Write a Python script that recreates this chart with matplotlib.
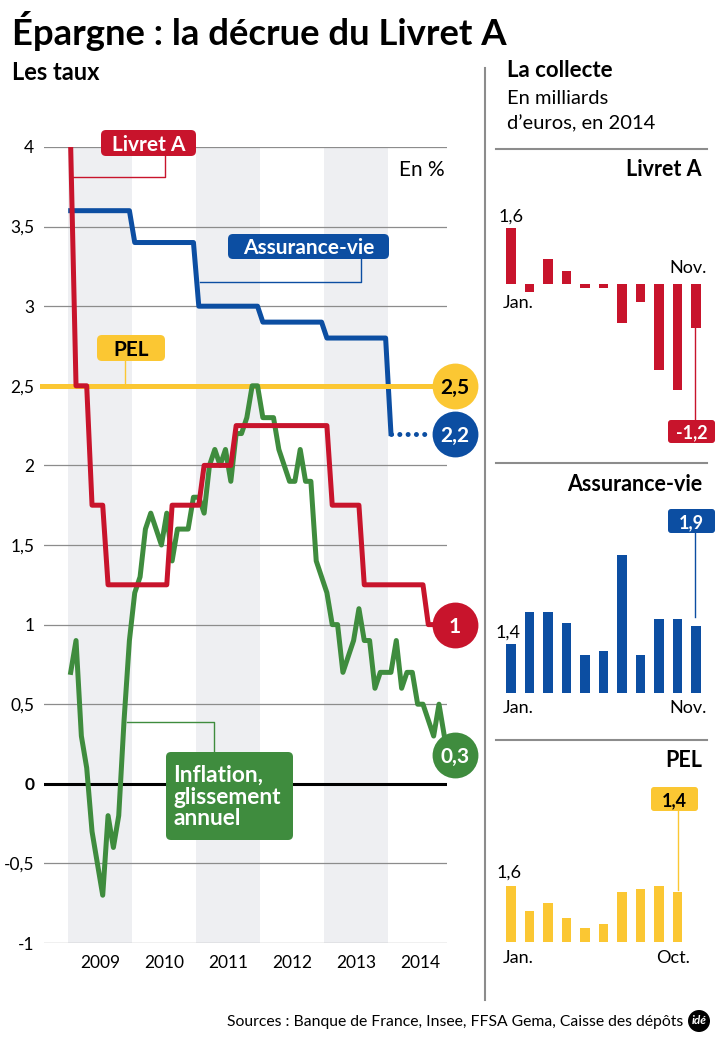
#%%
import numpy as np
import matplotlib
matplotlib.use("Agg")
import matplotlib.pyplot as plt
from matplotlib.patches import FancyBboxPatch, Circle
from matplotlib.lines import Line2D
from matplotlib.transforms import Affine2D

plt.rcParams['font.family'] = ['Lato', 'DejaVu Sans']

W, H = 720, 1040

#%%
# taux du Livret A : date du changement -> taux
livret_changes = ['2009-01', '2009-02', '2009-05', '2009-08', '2010-08',
                  '2011-02', '2011-08', '2013-02', '2013-08', '2014-08']
livret_rates = [4.0, 2.5, 1.75, 1.25, 1.75, 2.0, 2.25, 1.75, 1.25, 1.0]
livret_end = '2014-09'

# rendement moyen assurance-vie (2014 = estimation, en pointilles)
av_years = [2009, 2010, 2011, 2012, 2013, 2014]
av_rates = [3.6, 3.4, 3.0, 2.9, 2.8, 2.2]

pel_rate = 2.5

# inflation, glissement annuel, janv. 2009 -> nov. 2014
inflation = [0.7, 0.9, 0.3, 0.1, -0.3, -0.5, -0.7, -0.2, -0.4, -0.2, 0.4, 0.9,
             1.2, 1.3, 1.6, 1.7, 1.6, 1.5, 1.7, 1.4, 1.6, 1.6, 1.6, 1.8,
             1.8, 1.7, 2.0, 2.1, 2.0, 2.1, 1.9, 2.2, 2.2, 2.3, 2.5, 2.5,
             2.3, 2.3, 2.3, 2.1, 2.0, 1.9, 1.9, 2.1, 1.9, 1.9, 1.4, 1.3,
             1.2, 1.0, 1.0, 0.7, 0.8, 0.9, 1.1, 0.9, 0.9, 0.6, 0.7, 0.7,
             0.7, 0.9, 0.6, 0.7, 0.7, 0.5, 0.5, 0.4, 0.3, 0.5, 0.3]

years = ['2009', '2010', '2011', '2012', '2013', '2014']
yticks = [4, 3.5, 3, 2.5, 2, 1.5, 1, 0.5, 0, -0.5, -1]

# collecte 2014, en milliards d'euros
collecte_livret = [1.62, -0.21, 0.71, 0.38, -0.1, -0.1, -1.11, -0.5, -2.45, -3.02, -1.25]
collecte_av = [1.41, 2.32, 2.32, 2.02, 1.1, 1.2, 3.96, 1.1, 2.11, 2.11, 1.92]
collecte_pel = [1.62, 0.9, 1.11, 0.7, 0.4, 0.51, 1.43, 1.52, 1.62, 1.43]

RED = '#c8142c'
BLUE = '#0c4ea2'
YELLOW = '#fbc733'
GREEN = '#3f8c3e'
BAND = '#eeeff2'
GRID = '#8c8c8c'

def month_index(s):
    y, mo = s.split('-')
    return (int(y) - 2009) * 12 + int(mo) - 1

def fmt(v):
    if v == int(v):
        return str(int(v))
    return f"{v:.1f}".replace('.', ',')

#%%
fig = plt.figure(figsize=(W / 100, H / 100), dpi=100)
# coordonnees en pixels, origine en haut a gauche
pix = Affine2D().scale(1 / W, -1 / H).translate(0, 1) + fig.transFigure

def ptext(x, y, s, **kw):
    fig.text(x, y, s, transform=pix, **kw)

def pline(xs, ys, color, lw=1.0):
    fig.add_artist(Line2D(xs, ys, transform=pix, color=color, lw=lw))

def pbox(x0, y0, x1, y1, color, r=5):
    fig.add_artist(FancyBboxPatch((x0, y0), x1 - x0, y1 - y0,
                                  boxstyle=f"round,pad=0,rounding_size={r}",
                                  transform=pix, fc=color, ec='none'))

ptext(12, 45, "Épargne : la décrue du Livret A", fontsize=26.3, fontweight='bold', va='baseline')
ptext(12, 80, "Les taux", fontsize=17, fontweight='bold', va='baseline')

#%% graphique des taux
ax = fig.add_axes([44 / W, 1 - 943 / H, 403 / W, 796 / H])
ax.set_xlim(-5, 70.5)
ax.set_ylim(-1, 4)
for k in (0, 2, 4):
    ax.axvspan(12 * k - 0.5, 12 * k + 11.5, color=BAND, lw=0, zorder=0)
for v in yticks:
    if v == 0:
        ax.axhline(v, color='black', lw=2.2, zorder=1)
    else:
        ax.axhline(v, color=GRID, lw=0.9, zorder=1)
for s in ax.spines.values():
    s.set_visible(False)
ax.set_yticks(yticks)
ax.set_yticklabels([fmt(v) for v in yticks])
ax.set_xticks([5.5 + 12 * k for k in range(len(years))])
ax.set_xticklabels(years)
ax.tick_params(length=0, labelsize=12.5)
ax.tick_params(axis='y', pad=7)
ax.tick_params(axis='x', pad=9)
ax.get_yticklabels()[yticks.index(0)].set_fontweight('bold')

# Livret A mensuel
idx = [month_index(s) for s in livret_changes] + [month_index(livret_end) + 1]
livret_monthly = np.repeat(livret_rates, np.diff(idx))
m_livret = np.arange(len(livret_monthly))

# assurance-vie mensuelle
av_monthly = np.repeat(av_rates[:-1], 12)
av_monthly = np.append(av_monthly, av_rates[-1])
m_av = np.arange(len(av_monthly))

m_inf = np.arange(len(inflation))

ax.plot(m_av, av_monthly, color=BLUE, lw=3.6, zorder=3)
ax.plot([m_av[-1], 67.5], [av_rates[-1]] * 2, color=BLUE, lw=3.6, zorder=3,
        linestyle=(0, (0.01, 1.65)), dash_capstyle='round')
ax.plot([-5.3, 72], [pel_rate, pel_rate], color=YELLOW, lw=3.6, zorder=4, clip_on=False)
ax.plot(m_inf, inflation, color=GREEN, lw=3.6, zorder=5)
ax.plot(m_livret, livret_monthly, color=RED, lw=3.6, zorder=6)

# pastilles de fin
ends = [(pel_rate, YELLOW, 'black'), (av_rates[-1], BLUE, 'white'),
        (livret_rates[-1], RED, 'white'), (inflation[-1] - 0.12, GREEN, 'white')]
labels_end = [fmt(pel_rate), fmt(av_rates[-1]), fmt(livret_rates[-1]), fmt(inflation[-1])]
for (yv, c, tc), lab in zip(ends, labels_end):
    ax.plot(72, yv, 'o', ms=33, color=c, mec='none', clip_on=False, zorder=8)
    ax.text(72, yv, lab, ha='center', va='center_baseline', color=tc,
            fontsize=15, fontweight='bold', zorder=9, clip_on=False)

ptext(445, 170, "En %", fontsize=15, ha='right', va='center')

# etiquettes des courbes
pbox(101, 130, 196, 156, RED)
ptext(148.5, 143, "Livret A", color='white', fontsize=15, fontweight='bold', ha='center', va='center_baseline')
pline([165, 165, 73], [156, 177, 177], RED)

pbox(228, 234, 389, 259, BLUE)
ptext(308.5, 246.5, "Assurance-vie", color='white', fontsize=15, fontweight='bold', ha='center', va='center_baseline')
pline([361, 361, 200], [259, 282, 282], BLUE)

pbox(97, 335, 165, 361, YELLOW)
ptext(131, 348, "PEL", color='black', fontsize=15, fontweight='bold', ha='center', va='center_baseline')
pline([125, 125], [361, 386], YELLOW)

pbox(166, 752, 293, 840, GREEN)
ptext(173, 797, "Inflation,\nglissement\nannuel", color='white', fontsize=16.3, fontweight='bold',
      ha='left', va='center', linespacing=1.05)
pline([214, 214, 127], [752, 722, 722], GREEN)

#%% la collecte
pline([485, 485], [68, 1000], '#8c8c8c', lw=1.5)
ptext(507, 77, "La collecte", fontsize=16, fontweight='bold', va='baseline')
ptext(507, 104, "En milliards", fontsize=14.5, va='baseline')
ptext(507, 129, "d\u2019euros, en 2014", fontsize=14.5, va='baseline')

for yl in (149, 463, 740):
    pline([496, 707], [yl, yl], '#8c8c8c', lw=1.5)

def bar_axes(top, bottom, base, vals, color):
    a = fig.add_axes([495 / W, 1 - bottom / H, 215 / W, (bottom - top) / H])
    a.set_xlim(-0.865, 10.757)
    a.set_ylim((base - bottom) / 35, (base - top) / 35)
    a.axis('off')
    a.bar(range(len(vals)), vals, width=0.54, color=color)
    return a

bar_axes(200, 460, 284.3, collecte_livret, RED)
ptext(702, 176, "Livret A", fontsize=15.5, fontweight='bold', ha='right', va='baseline')
ptext(511, 217, fmt(collecte_livret[0]), fontsize=13, ha='center', va='center')
ptext(503, 303, "Jan.", fontsize=13, ha='left', va='center')
ptext(707, 268, "Nov.", fontsize=13, ha='right', va='center')
pline([694.5, 694.5], [284.3 - collecte_livret[-1] * 35, 420], RED)
pbox(668, 420, 715, 443, RED, r=3)
ptext(691.5, 431.5, fmt(collecte_livret[-1]), color='white', fontsize=13, fontweight='bold',
      ha='center', va='center_baseline')

bar_axes(540, 700, 693.3, collecte_av, BLUE)
ptext(702, 491, "Assurance-vie", fontsize=15.5, fontweight='bold', ha='right', va='baseline')
ptext(508, 633, fmt(collecte_av[0]), fontsize=13, ha='center', va='center')
ptext(503, 708, "Jan.", fontsize=13, ha='left', va='center')
ptext(707, 708, "Nov.", fontsize=13, ha='right', va='center')
pline([694.5, 694.5], [533, 617], BLUE)
pbox(668, 509, 715, 533, BLUE, r=3)
ptext(691.5, 521, fmt(collecte_av[-1]), color='white', fontsize=13, fontweight='bold',
      ha='center', va='center_baseline')

bar_axes(800, 950, 942.3, collecte_pel, YELLOW)
ptext(702, 767, "PEL", fontsize=15.5, fontweight='bold', ha='right', va='baseline')
ptext(509, 873, fmt(collecte_pel[0]), fontsize=13, ha='center', va='center')
ptext(503, 958, "Jan.", fontsize=13, ha='left', va='center')
ptext(690, 958, "Oct.", fontsize=13, ha='right', va='center')
pline([677.5, 677.5], [811, 890], YELLOW)
pbox(651, 787, 698, 811, YELLOW, r=3)
ptext(674.5, 799, fmt(collecte_pel[-1]), color='black', fontsize=13, fontweight='bold',
      ha='center', va='center_baseline')

#%% sources
ptext(683, 1022, "Sources : Banque de France, Insee, FFSA Gema, Caisse des dépôts",
      fontsize=11.3, ha='right', va='center')
fig.add_artist(Circle((699, 1021), 11, transform=pix, fc='black', ec='none'))
ptext(699, 1021, "idé", color='white', fontsize=8.5, fontweight='bold', style='italic',
      ha='center', va='center')

fig.savefig("out.png", dpi=100)
